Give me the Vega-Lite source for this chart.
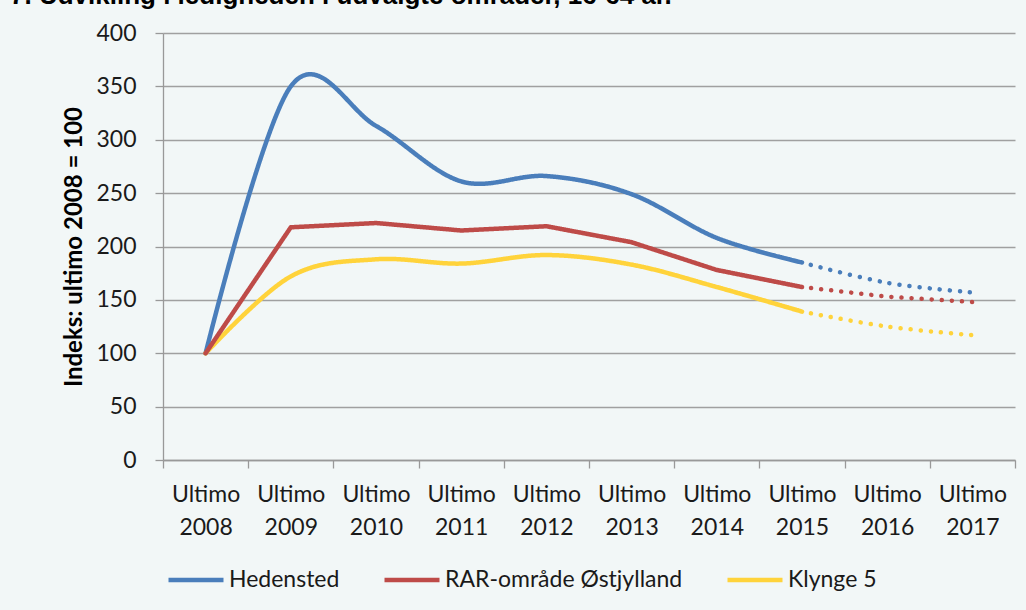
{
  "$schema": "https://vega.github.io/schema/vega-lite/v6.json",
  "width": 852,
  "height": 427,
  "autosize": {"type": "none"},
  "padding": {"left": 163, "top": 33, "right": 11, "bottom": 150},
  "background": "#f2f7f7",
  "config": {"view": {"stroke": null}},
  "title": {
    "text": "7. Udvikling i ledigheden i udvalgte områder, 16-64 år.",
    "anchor": "start",
    "frame": "group",
    "orient": "top",
    "baseline": "alphabetic",
    "offset": 22,
    "dx": -153,
    "dy": 30,
    "font": "Liberation Sans",
    "fontSize": 26,
    "fontWeight": "bold",
    "color": "#000000"
  },
  "data": {
    "values": [
      {"s": "Hedensted", "year": "2008", "v": 100, "p": "solid"},
      {"s": "Hedensted", "year": "2009", "v": 350, "p": "solid"},
      {"s": "Hedensted", "year": "2010", "v": 313, "p": "solid"},
      {"s": "Hedensted", "year": "2011", "v": 261, "p": "solid"},
      {"s": "Hedensted", "year": "2012", "v": 266, "p": "solid"},
      {"s": "Hedensted", "year": "2013", "v": 249, "p": "solid"},
      {"s": "Hedensted", "year": "2014", "v": 208, "p": "solid"},
      {"s": "Hedensted", "year": "2015", "v": 185, "p": "solid"},
      {"s": "Hedensted", "year": "2015", "v": 185, "p": "dot"},
      {"s": "Hedensted", "year": "2016", "v": 166, "p": "dot"},
      {"s": "Hedensted", "year": "2017", "v": 157, "p": "dot"},
      {"s": "RAR-område Østjylland", "year": "2008", "v": 100, "p": "solid"},
      {"s": "RAR-område Østjylland", "year": "2009", "v": 218, "p": "solid"},
      {"s": "RAR-område Østjylland", "year": "2010", "v": 222, "p": "solid"},
      {"s": "RAR-område Østjylland", "year": "2011", "v": 215, "p": "solid"},
      {"s": "RAR-område Østjylland", "year": "2012", "v": 219, "p": "solid"},
      {"s": "RAR-område Østjylland", "year": "2013", "v": 204, "p": "solid"},
      {"s": "RAR-område Østjylland", "year": "2014", "v": 178, "p": "solid"},
      {"s": "RAR-område Østjylland", "year": "2015", "v": 162, "p": "solid"},
      {"s": "RAR-område Østjylland", "year": "2015", "v": 162, "p": "dot"},
      {"s": "RAR-område Østjylland", "year": "2016", "v": 153, "p": "dot"},
      {"s": "RAR-område Østjylland", "year": "2017", "v": 148, "p": "dot"},
      {"s": "Klynge 5", "year": "2008", "v": 100, "p": "solid"},
      {"s": "Klynge 5", "year": "2009", "v": 172, "p": "solid"},
      {"s": "Klynge 5", "year": "2010", "v": 188, "p": "solid"},
      {"s": "Klynge 5", "year": "2011", "v": 184, "p": "solid"},
      {"s": "Klynge 5", "year": "2012", "v": 192, "p": "solid"},
      {"s": "Klynge 5", "year": "2013", "v": 183, "p": "solid"},
      {"s": "Klynge 5", "year": "2014", "v": 162, "p": "solid"},
      {"s": "Klynge 5", "year": "2015", "v": 139, "p": "solid"},
      {"s": "Klynge 5", "year": "2015", "v": 139, "p": "dot"},
      {"s": "Klynge 5", "year": "2016", "v": 125, "p": "dot"},
      {"s": "Klynge 5", "year": "2017", "v": 117, "p": "dot"}
    ]
  },
  "encoding": {
    "x": {
      "field": "year",
      "type": "ordinal",
      "bandPosition": 0.5,
      "scale": {"type": "band", "paddingInner": 0, "paddingOuter": 0},
      "axis": {
        "title": null,
        "labelExpr": "datum.label ? ['Ultimo', datum.label] : ''",
        "labelAngle": 0,
        "labelFont": "Lato",
        "labelFontSize": 23,
        "labelColor": "#1a1a1a",
        "labelLineHeight": 33,
        "labelBaseline": "top",
        "labelPadding": 15,
        "tickBand": "extent",
        "tickSize": 8,
        "tickColor": "#999999",
        "tickWidth": 1.3,
        "domainColor": "#999999",
        "domainWidth": 1.3,
        "grid": false
      }
    },
    "y": {
      "field": "v",
      "type": "quantitative",
      "scale": {"domain": [0, 400]},
      "axis": {
        "title": "Indeks: ultimo 2008 = 100",
        "titleFont": "Lato",
        "titleFontSize": 24,
        "titleFontWeight": "bold",
        "titleColor": "#000000",
        "titlePadding": 9,
        "values": [0, 50, 100, 150, 200, 250, 300, 350, 400],
        "labelFont": "Lato",
        "labelFontSize": 23,
        "labelColor": "#1a1a1a",
        "labelPadding": 19,
        "tickSize": 8,
        "tickColor": "#999999",
        "tickWidth": 1.3,
        "gridColor": "#a0a0a0",
        "gridWidth": 1.3,
        "domainColor": "#999999",
        "domainWidth": 1.3
      }
    },
    "color": {
      "field": "s",
      "type": "nominal",
      "scale": {
        "domain": ["Hedensted", "RAR-område Østjylland", "Klynge 5"],
        "range": ["#4a7ebb", "#be4b48", "#ffd33b"]
      },
      "legend": {
        "title": null,
        "orient": "none",
        "legendX": 3,
        "legendY": 517,
        "direction": "horizontal",
        "symbolType": "stroke",
        "symbolSize": 3025,
        "symbolStrokeWidth": 4.5,
        "symbolDash": [1, 0],
        "labelFont": "Lato",
        "labelFontSize": 23,
        "labelColor": "#1a1a1a",
        "labelOffset": 3,
        "labelLimit": 500,
        "columnPadding": 35
      }
    },
    "strokeDash": {
      "field": "p",
      "type": "nominal",
      "scale": {"domain": ["solid", "dot"], "range": [[1, 0], [0.1, 10]]},
      "legend": null
    }
  },
  "layer": [
    {
      "transform": [{"filter": "datum.s !== 'RAR-område Østjylland'"}],
      "mark": {"type": "line", "interpolate": "cardinal", "strokeWidth": 4.5, "strokeCap": "round", "strokeJoin": "round", "strokeDashOffset": 1}
    },
    {
      "transform": [{"filter": "datum.s === 'RAR-område Østjylland'"}],
      "mark": {"type": "line", "strokeWidth": 4.5, "strokeCap": "round", "strokeJoin": "round", "strokeDashOffset": 1}
    }
  ]
}
